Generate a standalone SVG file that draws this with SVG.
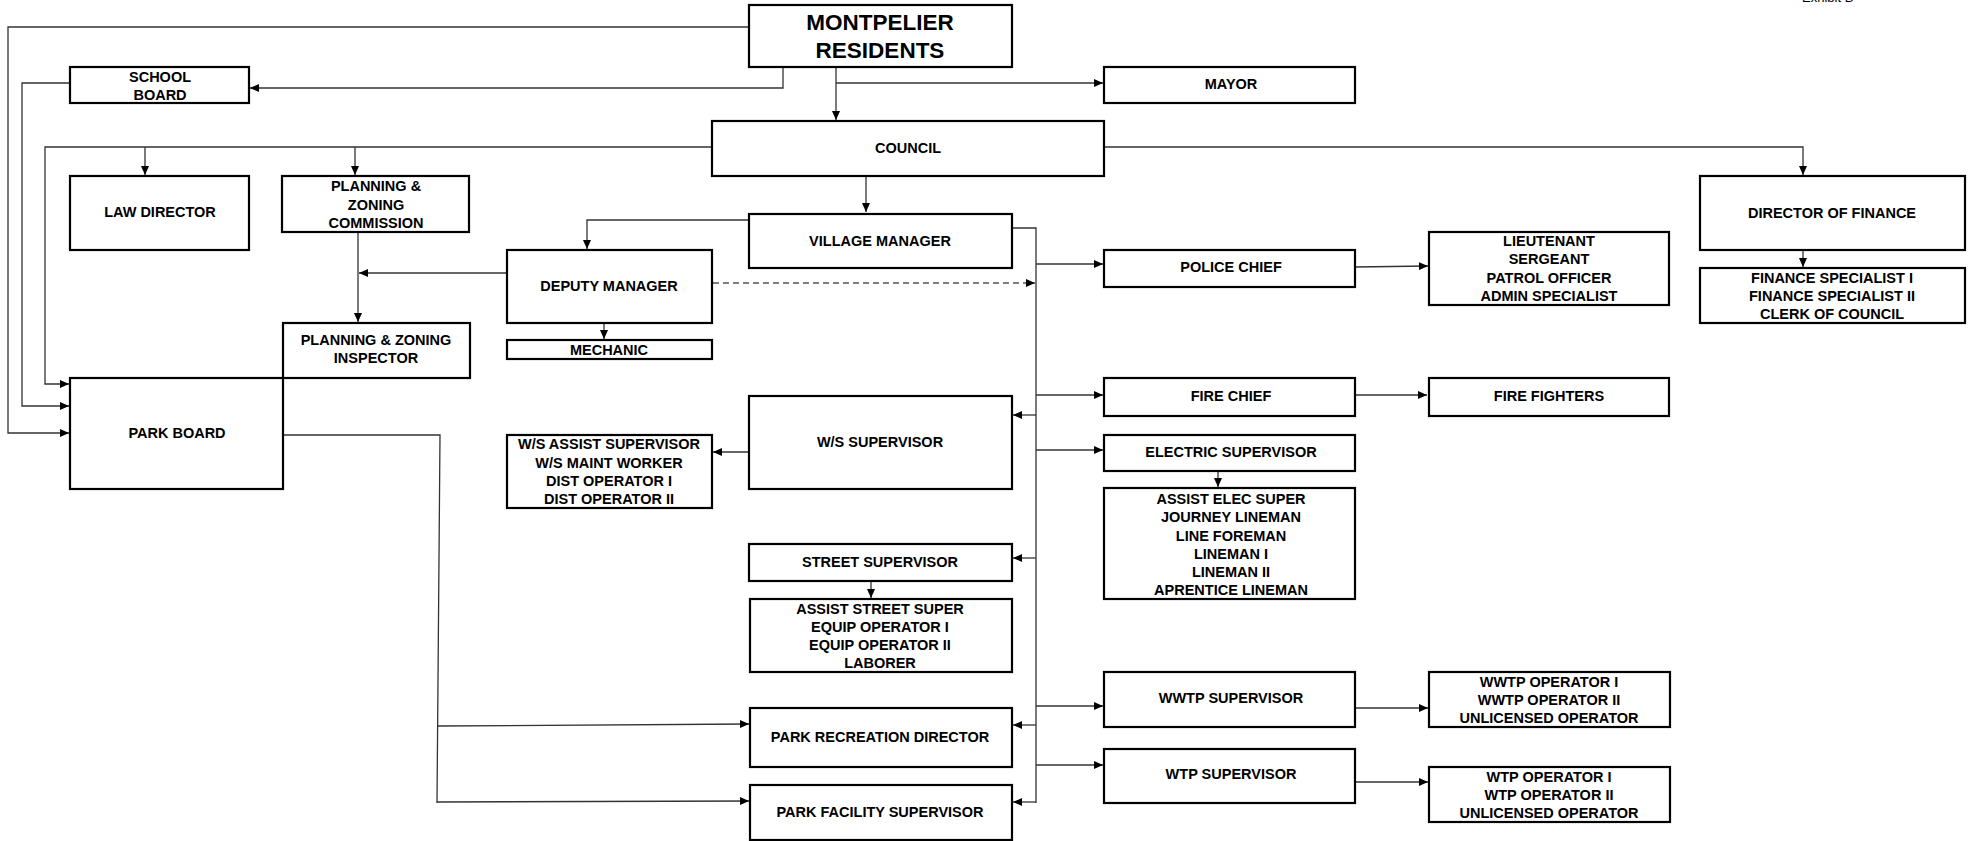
<svg xmlns="http://www.w3.org/2000/svg" width="1978" height="841" viewBox="0 0 1978 841">
<style>
.b{fill:#fff;stroke:#000;stroke-width:2.2}
.t{font-family:"Liberation Sans",Arial,sans-serif;font-weight:bold;font-size:14.5px;fill:#000;text-anchor:middle;dominant-baseline:central}
.big{font-size:22.5px}
.c{fill:none;stroke:#333;stroke-width:1.3}
.d{stroke-dasharray:6 4;stroke:#555}
</style>
<defs>
<marker id="a" markerUnits="userSpaceOnUse" markerWidth="9" markerHeight="8" refX="9" refY="4" orient="auto">
<path d="M0,0 L9,4 L0,8 z" fill="#000"/>
</marker>
</defs>
<rect width="1978" height="841" fill="#fff"/>
<text x="1802" y="2" font-family="Liberation Sans,Arial,sans-serif" font-size="13" fill="#000">Exhibit B</text>
<g id="connectors">
<polyline class="c" points="749,27 8,27 8,433 69,433" marker-end="url(#a)"/>
<polyline class="c" points="783,67 783,88 250,88" marker-end="url(#a)"/>
<polyline class="c" points="70,83 22,83 22,406 69,406" marker-end="url(#a)"/>
<polyline class="c" points="712,147 45,147 45,384 69,384" marker-end="url(#a)"/>
<line class="c" x1="145" y1="147" x2="145" y2="175" marker-end="url(#a)"/>
<line class="c" x1="355" y1="147" x2="355" y2="175" marker-end="url(#a)"/>
<line class="c" x1="836" y1="67" x2="836" y2="120" marker-end="url(#a)"/>
<line class="c" x1="836" y1="83" x2="1103" y2="83" marker-end="url(#a)"/>
<polyline class="c" points="1104,147 1803,147 1803,175" marker-end="url(#a)"/>
<line class="c" x1="1803" y1="250" x2="1803" y2="267" marker-end="url(#a)"/>
<line class="c" x1="866" y1="176" x2="866" y2="212" marker-end="url(#a)"/>
<polyline class="c" points="749,220 587,220 587,249" marker-end="url(#a)"/>
<line class="c" x1="358" y1="232" x2="358" y2="322" marker-end="url(#a)"/>
<line class="c" x1="507" y1="273" x2="359" y2="273" marker-end="url(#a)"/>
<line class="c" x1="604" y1="323" x2="604" y2="339" marker-end="url(#a)"/>
<line class="c d" x1="713" y1="283" x2="1035" y2="283" marker-end="url(#a)"/>
<polyline class="c" points="1011,228 1036,228 1036,803"/>
<line class="c" x1="1036" y1="264" x2="1103" y2="264" marker-end="url(#a)"/>
<line class="c" x1="1036" y1="395" x2="1103" y2="395" marker-end="url(#a)"/>
<line class="c" x1="1036" y1="415" x2="1013" y2="415" marker-end="url(#a)"/>
<line class="c" x1="1036" y1="450" x2="1103" y2="450" marker-end="url(#a)"/>
<line class="c" x1="1036" y1="558" x2="1013" y2="558" marker-end="url(#a)"/>
<line class="c" x1="1036" y1="706" x2="1103" y2="706" marker-end="url(#a)"/>
<line class="c" x1="1036" y1="725" x2="1013" y2="725" marker-end="url(#a)"/>
<line class="c" x1="1036" y1="765" x2="1103" y2="765" marker-end="url(#a)"/>
<line class="c" x1="1036" y1="802" x2="1013" y2="802" marker-end="url(#a)"/>
<line class="c" x1="1355" y1="267" x2="1428" y2="266" marker-end="url(#a)"/>
<line class="c" x1="1355" y1="395" x2="1427" y2="395" marker-end="url(#a)"/>
<line class="c" x1="1218" y1="471" x2="1218" y2="487" marker-end="url(#a)"/>
<line class="c" x1="749" y1="452" x2="713" y2="452" marker-end="url(#a)"/>
<line class="c" x1="871" y1="581" x2="871" y2="598" marker-end="url(#a)"/>
<polyline class="c" points="283,435 440,435 437,803"/>
<line class="c" x1="437" y1="726" x2="749" y2="724" marker-end="url(#a)"/>
<line class="c" x1="437" y1="802" x2="749" y2="801" marker-end="url(#a)"/>
<line class="c" x1="1355" y1="708" x2="1428" y2="708" marker-end="url(#a)"/>
<line class="c" x1="1355" y1="782" x2="1428" y2="782" marker-end="url(#a)"/>
</g>
<g id="montpelier"><rect class="b" x="749" y="5" width="263" height="62"/><text class="t big" x="880" y="22">MONTPELIER</text><text class="t big" x="880" y="50">RESIDENTS</text></g>
<g id="school-board"><rect class="b" x="70" y="67" width="179" height="36"/><text class="t" x="160" y="77">SCHOOL</text><text class="t" x="160" y="95">BOARD</text></g>
<g id="mayor"><rect class="b" x="1104" y="67" width="251" height="36"/><text class="t" x="1231" y="84">MAYOR</text></g>
<g id="council"><rect class="b" x="712" y="121" width="392" height="55"/><text class="t" x="908" y="148">COUNCIL</text></g>
<g id="law-director"><rect class="b" x="70" y="176" width="179" height="74"/><text class="t" x="160" y="212">LAW DIRECTOR</text></g>
<g id="pz-commission"><rect class="b" x="282" y="176" width="187" height="56"/><text class="t" x="376" y="186">PLANNING &amp;</text><text class="t" x="376" y="205">ZONING</text><text class="t" x="376" y="223">COMMISSION</text></g>
<g id="director-finance"><rect class="b" x="1700" y="176" width="265" height="74"/><text class="t" x="1832" y="213">DIRECTOR OF FINANCE</text></g>
<g id="finance-staff"><rect class="b" x="1700" y="268" width="265" height="55"/><text class="t" x="1832" y="278">FINANCE SPECIALIST I</text><text class="t" x="1832" y="296">FINANCE SPECIALIST II</text><text class="t" x="1832" y="314">CLERK OF COUNCIL</text></g>
<g id="village-manager"><rect class="b" x="749" y="214" width="263" height="54"/><text class="t" x="880" y="241">VILLAGE MANAGER</text></g>
<g id="deputy-manager"><rect class="b" x="507" y="250" width="205" height="73"/><text class="t" x="609" y="286">DEPUTY MANAGER</text></g>
<g id="mechanic"><rect class="b" x="507" y="340" width="205" height="19"/><text class="t" x="609" y="350">MECHANIC</text></g>
<g id="police-chief"><rect class="b" x="1104" y="250" width="251" height="37"/><text class="t" x="1231" y="267">POLICE CHIEF</text></g>
<g id="police-staff"><rect class="b" x="1429" y="232" width="240" height="73"/><text class="t" x="1549" y="241">LIEUTENANT</text><text class="t" x="1549" y="259">SERGEANT</text><text class="t" x="1549" y="278">PATROL OFFICER</text><text class="t" x="1549" y="296">ADMIN SPECIALIST</text></g>
<g id="pz-inspector"><rect class="b" x="283" y="323" width="187" height="55"/><text class="t" x="376" y="340">PLANNING &amp; ZONING</text><text class="t" x="376" y="358">INSPECTOR</text></g>
<g id="park-board"><rect class="b" x="70" y="378" width="213" height="111"/><text class="t" x="177" y="433">PARK BOARD</text></g>
<g id="fire-chief"><rect class="b" x="1104" y="378" width="251" height="38"/><text class="t" x="1231" y="396">FIRE CHIEF</text></g>
<g id="fire-fighters"><rect class="b" x="1429" y="378" width="240" height="38"/><text class="t" x="1549" y="396">FIRE FIGHTERS</text></g>
<g id="ws-supervisor"><rect class="b" x="749" y="396" width="263" height="93"/><text class="t" x="880" y="442">W/S SUPERVISOR</text></g>
<g id="ws-staff"><rect class="b" x="507" y="435" width="205" height="73"/><text class="t" x="609" y="444">W/S ASSIST SUPERVISOR</text><text class="t" x="609" y="463">W/S MAINT WORKER</text><text class="t" x="609" y="481">DIST OPERATOR I</text><text class="t" x="609" y="499">DIST OPERATOR II</text></g>
<g id="electric-supervisor"><rect class="b" x="1104" y="435" width="251" height="36"/><text class="t" x="1231" y="452">ELECTRIC SUPERVISOR</text></g>
<g id="electric-staff"><rect class="b" x="1104" y="488" width="251" height="111"/><text class="t" x="1231" y="499">ASSIST ELEC SUPER</text><text class="t" x="1231" y="517">JOURNEY LINEMAN</text><text class="t" x="1231" y="536">LINE FOREMAN</text><text class="t" x="1231" y="554">LINEMAN I</text><text class="t" x="1231" y="572">LINEMAN II</text><text class="t" x="1231" y="590">APRENTICE LINEMAN</text></g>
<g id="street-supervisor"><rect class="b" x="749" y="544" width="263" height="37"/><text class="t" x="880" y="562">STREET SUPERVISOR</text></g>
<g id="street-staff"><rect class="b" x="750" y="599" width="262" height="73"/><text class="t" x="880" y="609">ASSIST STREET SUPER</text><text class="t" x="880" y="627">EQUIP OPERATOR I</text><text class="t" x="880" y="645">EQUIP OPERATOR II</text><text class="t" x="880" y="663">LABORER</text></g>
<g id="wwtp-supervisor"><rect class="b" x="1104" y="672" width="251" height="55"/><text class="t" x="1231" y="698">WWTP SUPERVISOR</text></g>
<g id="wwtp-staff"><rect class="b" x="1429" y="672" width="241" height="55"/><text class="t" x="1549" y="682">WWTP OPERATOR I</text><text class="t" x="1549" y="700">WWTP OPERATOR II</text><text class="t" x="1549" y="718">UNLICENSED OPERATOR</text></g>
<g id="park-recreation"><rect class="b" x="750" y="708" width="262" height="59"/><text class="t" x="880" y="737">PARK RECREATION DIRECTOR</text></g>
<g id="wtp-supervisor"><rect class="b" x="1104" y="749" width="251" height="54"/><text class="t" x="1231" y="774">WTP SUPERVISOR</text></g>
<g id="wtp-staff"><rect class="b" x="1429" y="767" width="241" height="55"/><text class="t" x="1549" y="777">WTP OPERATOR I</text><text class="t" x="1549" y="795">WTP OPERATOR II</text><text class="t" x="1549" y="813">UNLICENSED OPERATOR</text></g>
<g id="park-facility"><rect class="b" x="750" y="785" width="262" height="55"/><text class="t" x="880" y="812">PARK FACILITY SUPERVISOR</text></g>
</svg>
